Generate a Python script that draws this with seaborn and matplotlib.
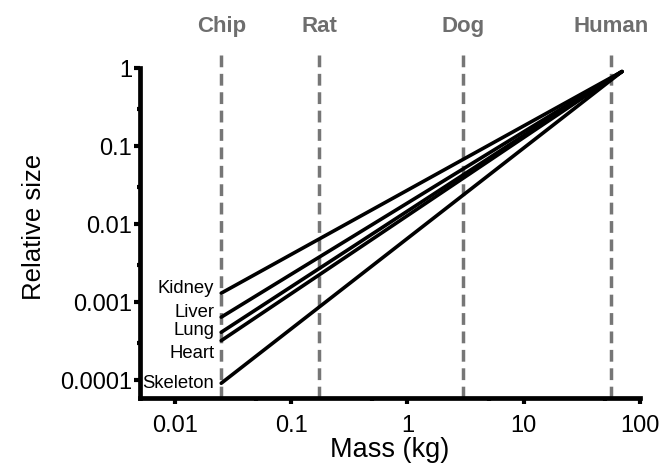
import numpy as np
import pandas as pd
import seaborn as sns
import matplotlib.pyplot as plt
from matplotlib.ticker import FixedLocator, NullFormatter

# organs and their relative size at chip scale and at human scale
organs = ['Kidney', 'Liver', 'Lung', 'Heart', 'Skeleton']
size_chip = [0.0013, 0.00064, 0.00041, 0.00032, 0.000091]
size_end = [0.9, 0.9, 0.9, 0.9, 0.9]
mass_start = 0.025
mass_end = 70

# reference organisms (kg)
animals = ['Chip', 'Rat', 'Dog', 'Human']
animal_mass = [0.025, 0.175, 3.0, 56]

x_ticks = [0.01, 0.1, 1, 10, 100]
x_ticklabels = ['0.01', '0.1', '1', '10', '100']
y_ticks = [0.0001, 0.001, 0.01, 0.1, 1]
y_ticklabels = ['0.0001', '0.001', '0.01', '0.1', '1']

# label nudges in points (heart label sits below its line)
label_dy = [3, 3, 1, -9, 0]

rows = []
for o, a, b in zip(organs, size_chip, size_end):
    rows.append({'organ': o, 'mass': mass_start, 'size': a})
    rows.append({'organ': o, 'mass': mass_end, 'size': b})
df = pd.DataFrame(rows)

sns.set_style('ticks', {'axes.edgecolor': 'black', 'xtick.color': 'black',
                        'ytick.color': 'black', 'text.color': 'black',
                        'axes.labelcolor': 'black'})
plt.rcParams['font.family'] = ['Liberation Sans', 'DejaVu Sans']

fig = plt.figure(figsize=(6.59, 4.72), dpi=100)
ax = fig.add_axes([0.2124, 0.1568, 0.7587, 0.7267])

for m in animal_mass:
    ax.axvline(m, color='#767676', lw=2.5, ls=(0, (3.4, 1.9)), zorder=1)

sns.lineplot(data=df, x='mass', y='size', hue='organ', palette=['black'] * 5,
             legend=False, lw=2.6, ax=ax, zorder=3)

ax.set_xscale('log')
ax.set_yscale('log')
ax.set_xlim(0.005, 100)
ax.set_ylim(10 ** -4.23, 10 ** 0.167)

ax.xaxis.set_major_locator(FixedLocator(x_ticks))
ax.set_xticklabels(x_ticklabels)
ax.xaxis.set_minor_locator(FixedLocator([0.05, 0.5, 5, 50]))
ax.xaxis.set_minor_formatter(NullFormatter())
ax.yaxis.set_major_locator(FixedLocator(y_ticks))
ax.set_yticklabels(y_ticklabels)
ax.yaxis.set_minor_locator(FixedLocator([0.0003, 0.003, 0.03, 0.3]))
ax.yaxis.set_minor_formatter(NullFormatter())

ax.tick_params(which='major', length=4, width=3, labelsize=17)
ax.tick_params(axis='x', which='major', pad=8)
ax.tick_params(axis='y', which='major', pad=1.5)
ax.tick_params(which='minor', length=2.5, width=3)

sns.despine(ax=ax)
ax.spines['left'].set_linewidth(3.4)
ax.spines['bottom'].set_linewidth(3.4)
ax.spines['left'].set_bounds(10 ** -4.23, 1)

ax.set_xlabel('Mass (kg)', fontsize=19.5, labelpad=0)
ax.set_ylabel('Relative size', fontsize=18.5, labelpad=10)

for name, m in zip(animals, animal_mass):
    ax.text(m, 1.082, name, transform=ax.get_xaxis_transform(), ha='center',
            va='center', fontsize=16, fontweight='bold', color='#6e6e6e')

for name, s, dy in zip(organs, size_chip, label_dy):
    ax.annotate(name, (mass_start, s), xytext=(-5, dy), textcoords='offset points',
                ha='right', va='center', fontsize=13.3)

fig.savefig('out.png', dpi=100)
